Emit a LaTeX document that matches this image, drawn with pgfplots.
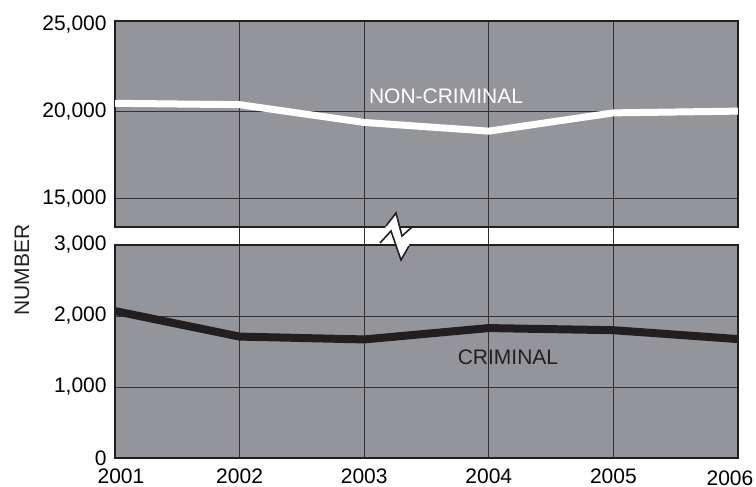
\documentclass[border=0pt]{standalone}
\usepackage{pgfplots}
\pgfplotsset{compat=1.18}
\usepackage{fontspec}
\setmainfont{Liberation Sans}
\definecolor{bg}{RGB}{148,149,154}
\definecolor{dk}{RGB}{35,31,32}
\definecolor{gridc}{RGB}{50,50,52}
\begin{document}
\fontsize{10.5}{12}\selectfont
\begin{tikzpicture}
\useasboundingbox (0,0) rectangle (378pt,-243.5pt);
\pgfplotsset{
 panel/.style={
  scale only axis, width=311.5pt, xmin=2001, xmax=2006,
  axis background/.style={fill=bg},
  axis line style={dk, line width=1.2pt},
  grid=major, major grid style={gridc, line width=0.5pt},
  major tick length=0pt,
  scaled y ticks=false,
  xtick={2001,2002,2003,2004,2005,2006},
  /pgf/number format/assume math mode=true,
  /pgf/number format/1000 sep={,},
  tick label style={font=\fontsize{10.5}{12}\selectfont},
  yticklabel style={xshift=-0.5pt},
 }
}
% top panel
\begin{axis}[panel, at={(57.5pt,-113.5pt)}, anchor=south west, height=103pt,
  ymin=13390, ymax=25230, ytick={15000,20000},
  extra y ticks={25000}, extra y tick style={grid=none},
  xticklabels={}]
\addplot[white, line width=3.5pt, line join=miter] coordinates {
 (2001,20500) (2002,20420) (2003,19400) (2004,18900) (2005,19950) (2006,20050)};
\end{axis}
% bottom panel
\begin{axis}[panel, at={(57.5pt,-229pt)}, anchor=south west, height=106.5pt,
  ymin=0, ymax=3000, ytick={0,1000,2000,3000},
  xticklabels={\hspace{6pt}2001,2002,2003,2004,2005,\raisebox{-0.75pt}[\height][\depth]{2006\hspace{8pt}}},
  xticklabel style={inner sep=0.5pt, yshift=-4.8pt}]
\addplot[dk, line width=4pt, line join=miter] coordinates {
 (2001,2070) (2002,1710) (2003,1670) (2004,1830) (2005,1800) (2006,1675)};
\end{axis}
% grid lines through the gap
\foreach \xx in {119.8,182.1,244.4,306.7}
  \draw[gridc, line width=0.5pt] (\xx pt,-113.5pt) -- (\xx pt,-122.5pt);
% break symbol
\fill[white] (193pt,-113pt) -- (198pt,-106.5pt) -- (201pt,-118pt) -- (206pt,-113.5pt)
  -- (204.5pt,-123pt) -- (200.5pt,-130pt) -- (195.5pt,-115.5pt) -- (190pt,-121.5pt) -- cycle;
\draw[dk, line width=0.8pt, line join=miter] (193pt,-113pt) -- (198pt,-106.5pt) -- (201pt,-118pt) -- (206pt,-113.5pt);
\draw[dk, line width=0.8pt, line join=miter] (190pt,-121.5pt) -- (195.5pt,-115.5pt) -- (200.5pt,-130pt) -- (204.5pt,-123pt);
% labels
\node[white] at (223pt,-48pt) {NON-CRIMINAL};
\node[dk] at (254pt,-178.5pt) {CRIMINAL};
\node[rotate=90, text=dk] at (11pt,-135pt) {NUMBER};
\end{tikzpicture}
\end{document}
